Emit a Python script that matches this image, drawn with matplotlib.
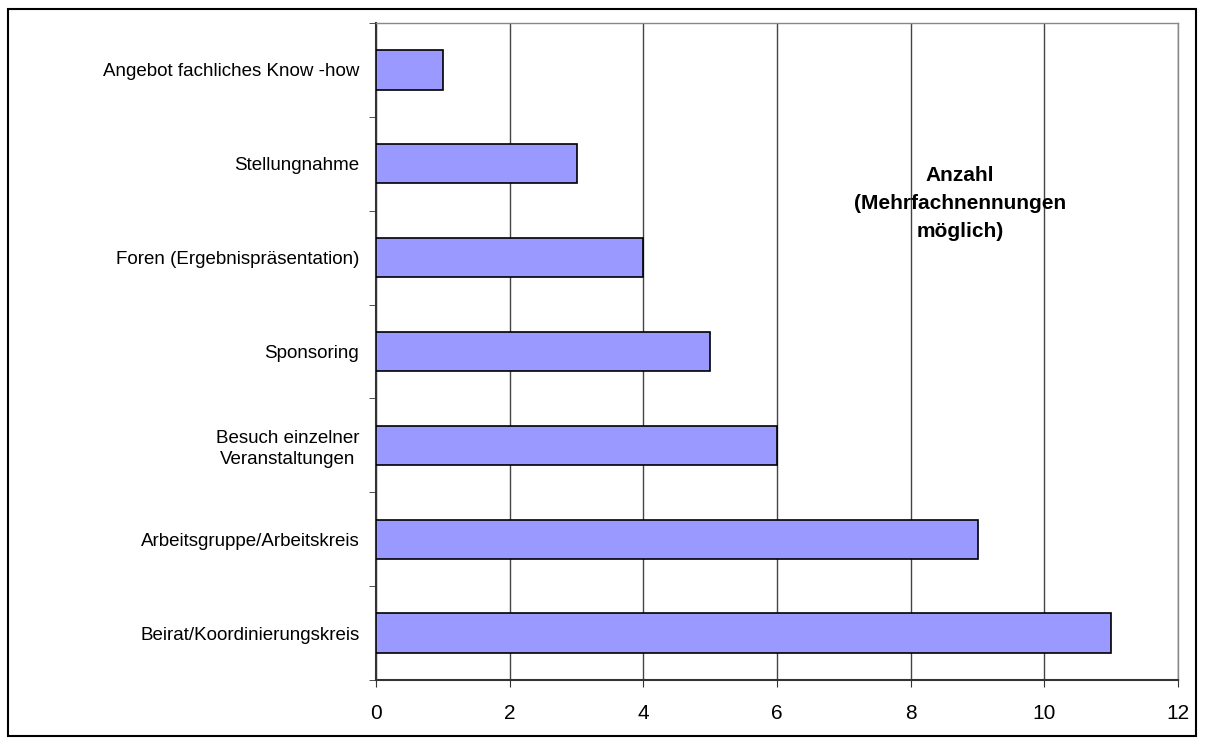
import matplotlib
matplotlib.use('Agg')
import matplotlib.pyplot as plt
from matplotlib.patches import Rectangle

plt.rcParams['font.family'] = ['Liberation Sans', 'DejaVu Sans']

categories = ['Beirat/Koordinierungskreis', 'Arbeitsgruppe/Arbeitskreis',
              'Besuch einzelner\nVeranstaltungen', 'Sponsoring',
              'Foren (Ergebnispräsentation)', 'Stellungnahme',
              'Angebot fachliches Know -how']
counts = [11, 9, 6, 5, 4, 3, 1]
xticks = [0, 2, 4, 6, 8, 10, 12]

fig = plt.figure(figsize=(12.05, 7.44), dpi=100)
ax = fig.add_axes([376/1205, 1-680/744, (1178-376)/1205, (680-23)/744])

# frame around the whole chart
fig.patches.append(Rectangle((8/1205, 8/744), (1196-8)/1205, (735-8)/744,
                             transform=fig.transFigure, fill=False,
                             edgecolor='black', linewidth=1.5))

pos = list(range(len(categories)))
ax.barh(pos, counts, height=0.42, color='#9999FF', edgecolor='black',
        linewidth=1.2, zorder=3)

ax.set_xlim(0, 12)
ax.set_ylim(-0.5, len(categories) - 0.5)
ax.set_xticks(xticks)
ax.set_xticklabels([str(t) for t in xticks], fontsize=15)
ax.set_yticks(pos)
ax.set_yticklabels(categories, fontsize=13.5, ha='right', multialignment='center',
                   linespacing=1.3)
ax.tick_params(axis='y', length=0, pad=12)
ax.set_yticks([p - 0.5 for p in pos] + [len(categories) - 0.5], minor=True)
ax.tick_params(axis='y', which='minor', length=5, color='#333333')
ax.tick_params(axis='x', length=5, color='#333333', pad=12)

ax.grid(axis='x', color='#444444', linewidth=1, zorder=0)
for side in ['left', 'bottom']:
    ax.spines[side].set_color('#333333')
    ax.spines[side].set_linewidth(1.5)
for side in ['top', 'right']:
    ax.spines[side].set_color('#888888')
    ax.spines[side].set_linewidth(1)

ax.text(8.74, 4.58, 'Anzahl\n(Mehrfachnennungen\nmöglich)', ha='center', va='center',
        fontsize=15, fontweight='bold', linespacing=1.6, zorder=4)

fig.savefig('out.png', dpi=100)
